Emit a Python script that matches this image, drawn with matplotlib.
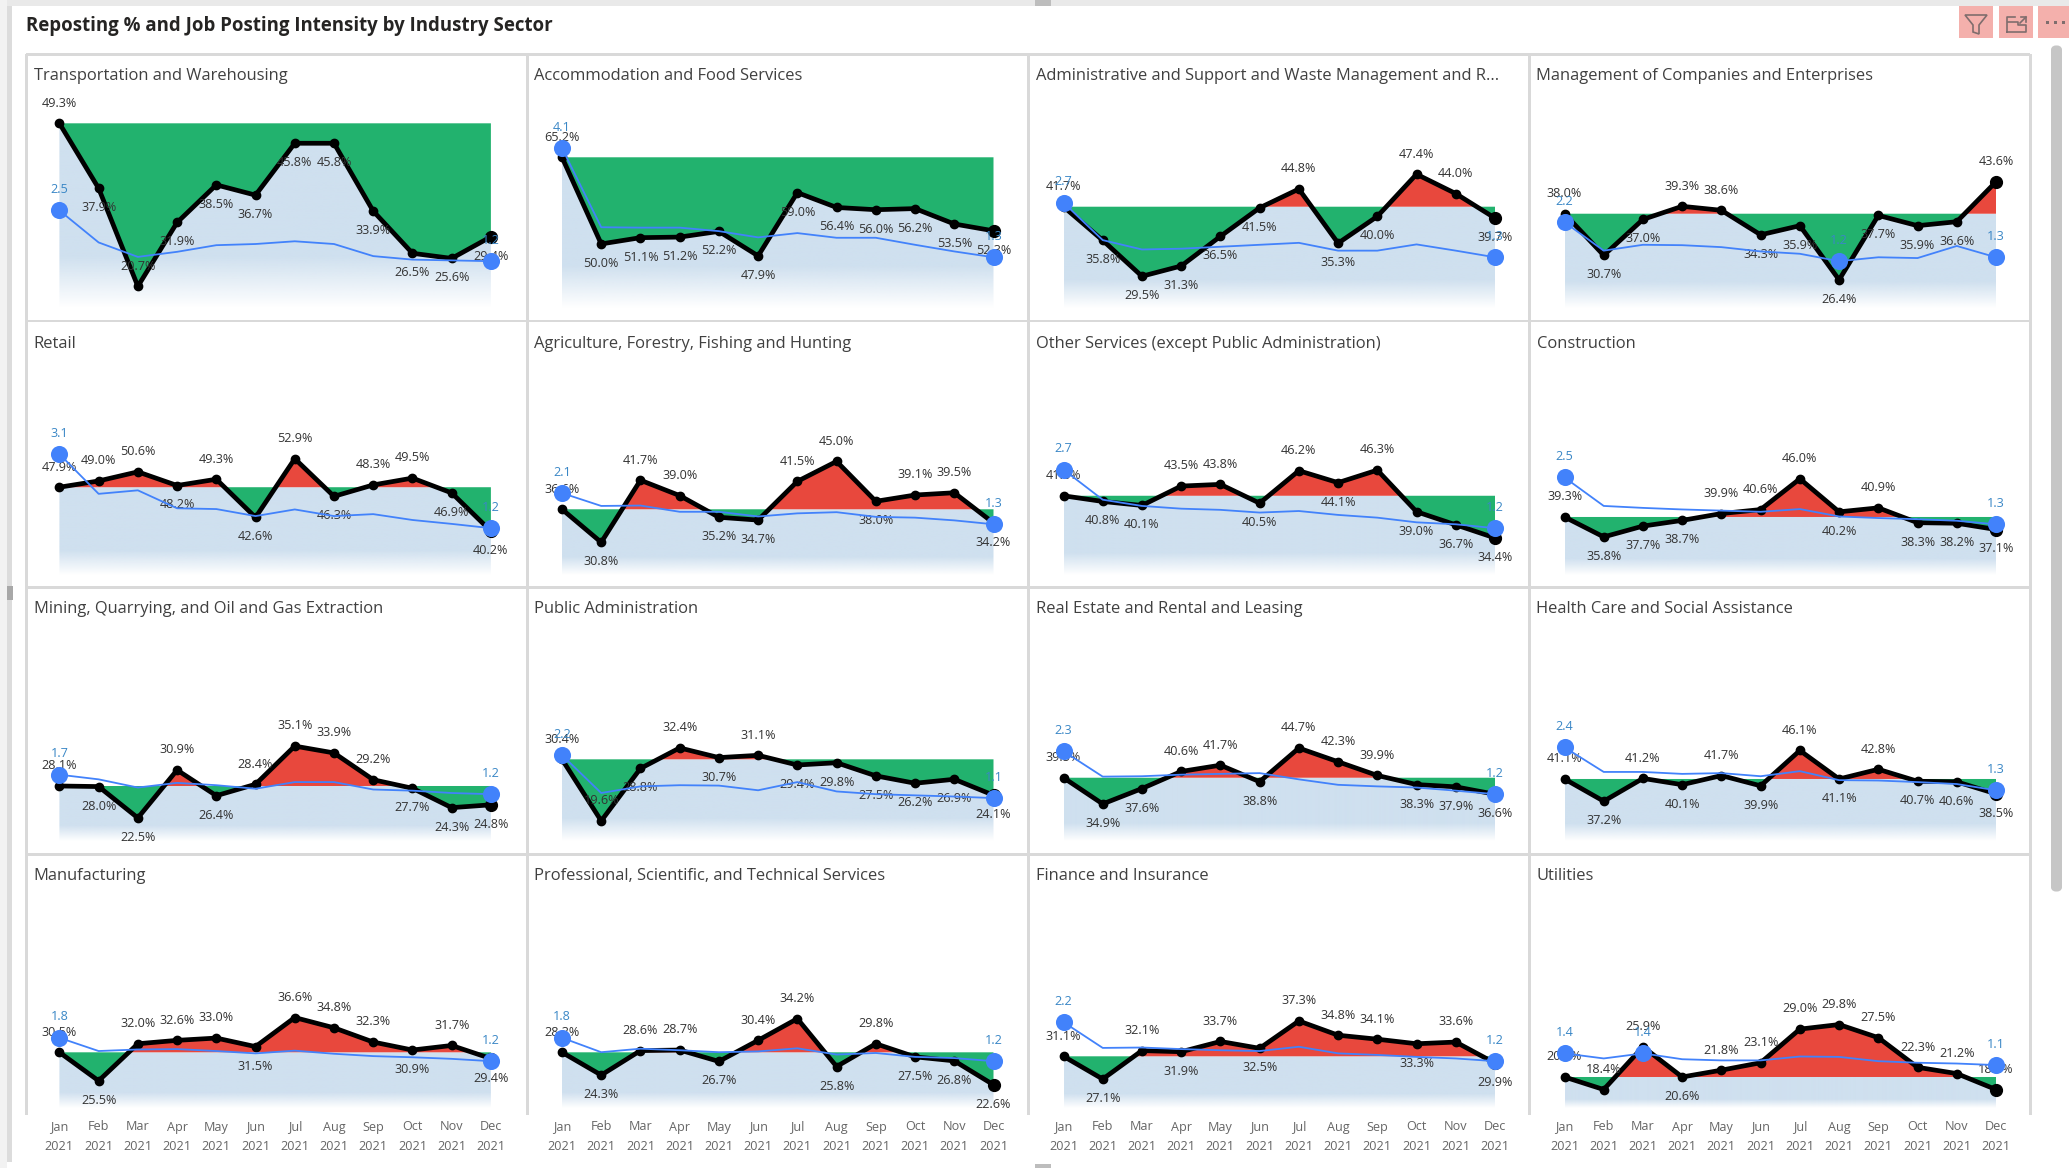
import numpy as np
import matplotlib
matplotlib.use('Agg')
import matplotlib.pyplot as plt
from matplotlib.patches import Rectangle, FancyBboxPatch, Polygon
from matplotlib.lines import Line2D

plt.rcParams['font.family'] = ['Open Sans', 'DejaVu Sans']

###############################################

months = ['Jan', 'Feb', 'Mar', 'Apr', 'May', 'Jun', 'Jul', 'Aug', 'Sep', 'Oct', 'Nov', 'Dec']
tick_labels = [m + '\n2021' for m in months]

sectors = ['Transportation and Warehousing', 'Accommodation and Food Services',
           'Administrative and Support and Waste Management and R...', 'Management of Companies and Enterprises',
           'Retail', 'Agriculture, Forestry, Fishing and Hunting',
           'Other Services (except Public Administration)', 'Construction',
           'Mining, Quarrying, and Oil and Gas Extraction', 'Public Administration',
           'Real Estate and Rental and Leasing', 'Health Care and Social Assistance',
           'Manufacturing', 'Professional, Scientific, and Technical Services',
           'Finance and Insurance', 'Utilities']

repost_transport = [49.3, 37.9, 20.7, 31.9, 38.5, 36.7, 45.8, 45.8, 33.9, 26.5, 25.6, 29.4]
repost_accom = [65.2, 50.0, 51.1, 51.2, 52.2, 47.9, 59.0, 56.4, 56.0, 56.2, 53.5, 52.3]
repost_admin = [41.7, 35.8, 29.5, 31.3, 36.5, 41.5, 44.8, 35.3, 40.0, 47.4, 44.0, 39.7]
repost_mgmt = [38.0, 30.7, 37.0, 39.3, 38.6, 34.3, 35.9, 26.4, 37.7, 35.9, 36.6, 43.6]
repost_retail = [47.9, 49.0, 50.6, 48.2, 49.3, 42.6, 52.9, 46.3, 48.3, 49.5, 46.9, 40.2]
repost_agri = [36.6, 30.8, 41.7, 39.0, 35.2, 34.7, 41.5, 45.0, 38.0, 39.1, 39.5, 34.2]
repost_other = [41.8, 40.8, 40.1, 43.5, 43.8, 40.5, 46.2, 44.1, 46.3, 39.0, 36.7, 34.4]
repost_constr = [39.3, 35.8, 37.7, 38.7, 39.9, 40.6, 46.0, 40.2, 40.9, 38.3, 38.2, 37.1]
repost_mining = [28.1, 28.0, 22.5, 30.9, 26.4, 28.4, 35.1, 33.9, 29.2, 27.7, 24.3, 24.8]
repost_public = [30.4, 19.6, 28.8, 32.4, 30.7, 31.1, 29.4, 29.8, 27.5, 26.2, 26.9, 24.1]
repost_estate = [39.5, 34.9, 37.6, 40.6, 41.7, 38.8, 44.7, 42.3, 39.9, 38.3, 37.9, 36.6]
repost_health = [41.1, 37.2, 41.2, 40.1, 41.7, 39.9, 46.1, 41.1, 42.8, 40.7, 40.6, 38.5]
repost_manuf = [30.5, 25.5, 32.0, 32.6, 33.0, 31.5, 36.6, 34.8, 32.3, 30.9, 31.7, 29.4]
repost_prof = [28.3, 24.3, 28.6, 28.7, 26.7, 30.4, 34.2, 25.8, 29.8, 27.5, 26.8, 22.6]
repost_fin = [31.1, 27.1, 32.1, 31.9, 33.7, 32.5, 37.3, 34.8, 34.1, 33.3, 33.6, 29.9]
repost_util = [20.6, 18.4, 25.9, 20.6, 21.8, 23.1, 29.0, 29.8, 27.5, 22.3, 21.2, 18.4]

intens_transport = [2.5, 1.68, 1.31, 1.44, 1.61, 1.64, 1.71, 1.64, 1.33, 1.24, 1.22, 1.2]
intens_accom = [4.1, 2.07, 2.06, 2.06, 1.97, 1.81, 1.92, 1.8, 1.8, 1.62, 1.45, 1.3]
intens_admin = [2.7, 1.74, 1.5, 1.52, 1.57, 1.62, 1.67, 1.47, 1.47, 1.63, 1.47, 1.3]
intens_mgmt = [2.2, 1.47, 1.62, 1.61, 1.56, 1.45, 1.39, 1.2, 1.3, 1.28, 1.59, 1.3]
intens_retail = [3.1, 2.08, 2.17, 1.71, 1.69, 1.51, 1.68, 1.51, 1.56, 1.41, 1.31, 1.2]
intens_agri = [2.1, 1.77, 1.78, 1.62, 1.62, 1.5, 1.58, 1.61, 1.49, 1.47, 1.4, 1.3]
intens_other = [2.7, 1.93, 1.77, 1.7, 1.67, 1.6, 1.64, 1.54, 1.47, 1.35, 1.3, 1.2]
intens_constr = [2.5, 1.77, 1.72, 1.68, 1.65, 1.62, 1.69, 1.5, 1.46, 1.43, 1.39, 1.3]
intens_mining = [1.7, 1.58, 1.37, 1.49, 1.43, 1.34, 1.51, 1.51, 1.32, 1.29, 1.23, 1.2]
intens_public = [2.2, 1.23, 1.4, 1.43, 1.42, 1.3, 1.51, 1.27, 1.2, 1.17, 1.14, 1.1]
intens_estate = [2.3, 1.65, 1.66, 1.7, 1.72, 1.74, 1.58, 1.44, 1.4, 1.37, 1.29, 1.2]
intens_health = [2.4, 1.77, 1.77, 1.72, 1.74, 1.66, 1.79, 1.56, 1.55, 1.51, 1.46, 1.3]
intens_manuf = [1.8, 1.46, 1.5, 1.51, 1.46, 1.4, 1.47, 1.39, 1.33, 1.3, 1.26, 1.2]
intens_prof = [1.8, 1.43, 1.52, 1.48, 1.43, 1.45, 1.53, 1.37, 1.41, 1.31, 1.28, 1.2]
intens_fin = [2.2, 1.54, 1.55, 1.51, 1.48, 1.46, 1.57, 1.4, 1.36, 1.31, 1.27, 1.2]
intens_util = [1.4, 1.27, 1.4, 1.25, 1.22, 1.22, 1.32, 1.31, 1.2, 1.16, 1.14, 1.1]

reposts = [repost_transport, repost_accom, repost_admin, repost_mgmt,
           repost_retail, repost_agri, repost_other, repost_constr,
           repost_mining, repost_public, repost_estate, repost_health,
           repost_manuf, repost_prof, repost_fin, repost_util]
intens = [intens_transport, intens_accom, intens_admin, intens_mgmt,
          intens_retail, intens_agri, intens_other, intens_constr,
          intens_mining, intens_public, intens_estate, intens_health,
          intens_manuf, intens_prof, intens_fin, intens_util]

# bottom of the left axis of each panel, they all span the same range
y_bottom = [16.9, 38.76, 23.93, 21.46, 32.5, 25.07, 27.9, 29.12,
            18.45, 16.07, 28.4, 30.22, 20.73, 18.53, 22.03, 15.16]

# a = label above the point, b = below
label_side = ['ababbbbbbbbb', 'abbbbbbbbbbb', 'abbbbbabbaab', 'abbaabbbbbba',
              'aaabababaabb', 'abaabbaabaab', 'abbaabababbb', 'abbbaaababbb',
              'abbabaaaabbb', 'aababab' + 'bbbbb', 'abbaabaaabbb', 'abababababbb',
              'abaaabaaabab', 'abaabaababbb', 'abababaaabab', 'aaabaaaaaaaa']

# months where the blue line has a dot and a label
blue_dots = [[0, 11]] * 3 + [[0, 7, 11]] + [[0, 11]] * 11 + [[0, 2, 11]]

###############################################

W = 2069
H = 1168
col_x = [26, 527, 1028, 1529, 2030]
row_y = [54, 321, 587, 854]
ax_left = [59.4, 562, 1063.5, 1564.5]
ax_w = 431.5
axis_h = 254
y_span = 44.56
y2_top = 6.51

GREEN = '#22b26e'
RED = '#e8483d'
AREA = '#cfe0ef'
BLUE = '#4282fb'
BLUE_TXT = '#3a87c6'
GRID = '#d9d9d9'
TXT = '#333333'
ICON = '#7f6d6d'

x = np.arange(12)
x_dense = np.linspace(0, 11, 1101)

fig = plt.figure(figsize=(W/100, H/100), dpi=100, facecolor='white')


def px_rect(x0, y0, w, h, color, **kw):
    fig.add_artist(Rectangle((x0/W, 1-(y0+h)/H), w/W, h/H, transform=fig.transFigure,
                             facecolor=color, edgecolor='none', **kw))


def px_line(xs, ys, color, lw):
    fig.add_artist(Line2D([a/W for a in xs], [1-b/H for b in ys], transform=fig.transFigure,
                          color=color, lw=lw))


# outer frame of the visual
px_rect(0, 0, W, 6, '#e9e9e9')
px_rect(7, 6, 5, H-12, '#dcdcdc')
px_rect(0, 0, 7, H, '#f2f2f2')
px_rect(1035, 0, 16, 6, '#bdbdbd')
px_rect(7, 586, 6, 14, '#a8a8a8')
px_rect(1035, 1164, 16, 4, '#bdbdbd')

# panel grid
for r in row_y:
    px_rect(col_x[0], r-1, col_x[-1]-col_x[0], 2.5, GRID)
for c in col_x:
    px_rect(c-1, row_y[0], 2.5, 1115-row_y[0], GRID)

# scroll bar
fig.add_artist(FancyBboxPatch((2051/W, 1-892/H), 11/W, 847/H, boxstyle='round,pad=0,rounding_size=0.004',
                              transform=fig.transFigure, facecolor='#c6c6c6', edgecolor='none'))

# header icons
for ix, iw in [(1959, 34), (1998.5, 34), (2038.4, 30.6)]:
    px_rect(ix, 6, iw, 32, '#f4b0ac')
fig.add_artist(Polygon([((1965+dx)/W, 1-(15+dy)/H) for dx, dy in
                        [(0, 0), (22, 0), (14, 10), (14, 19), (8, 17), (8, 10)]],
                       closed=True, fill=False, edgecolor=ICON, lw=1.2, transform=fig.transFigure))
px_line([2007, 2026, 2026, 2018, 2018, 2007, 2007], [32, 32, 25, 25, 22, 22, 32], ICON, 1.2)
px_line([2007, 2007, 2015], [21, 17, 17], ICON, 1.2)
px_line([2020, 2026], [23, 17], ICON, 1.2)
px_line([2021, 2026, 2026], [17, 17, 22], ICON, 1.2)
for dx in [2046, 2054, 2062]:
    px_rect(dx, 21, 3, 3, ICON)

fig.text(25.8/W, 1-31/H, 'Reposting % and Job Posting Intensity by Industry Sector',
         fontsize=13.45, fontweight='bold', color='#252423', va='baseline', ha='left')

###############################################

for i in range(16):
    row = i // 4
    col = i % 4
    left = col_x[col]
    top = row_y[row]
    y = np.array(reposts[i])
    z = np.array(intens[i])
    jan = y[0]
    ymin = y_bottom[i]
    ymax = ymin + y_span

    ax = fig.add_axes([ax_left[col]/W, 1-(top+axis_h)/H, ax_w/W, axis_h/H])
    ax.patch.set_alpha(0)
    for s in ax.spines.values():
        s.set_visible(False)

    y_dense = np.interp(x_dense, x, y)
    low = np.minimum(y_dense, jan)

    # light blue area, solid first then fading out to the bottom of the panel
    area = ax.fill_between(x_dense, low, ymin, facecolor='none', edgecolor='none')
    fade = np.ones((256, 1, 4))
    fade[:, :, :3] = matplotlib.colors.to_rgb(AREA)
    fade[:, 0, 3] = np.clip((1-np.linspace(0, 1, 256))/0.28, 0, 1)
    img = ax.imshow(fade, extent=(0, 11, ymin, jan), origin='upper', aspect='auto', zorder=1)
    img.set_clip_path(area.get_paths()[0], transform=ax.transData)

    ax.fill_between(x_dense, y_dense, jan, where=y_dense < jan, facecolor=GREEN, edgecolor='none', zorder=2)
    ax.fill_between(x_dense, y_dense, jan, where=y_dense > jan, facecolor=RED, edgecolor='none', zorder=2)

    ax.plot(x, y, color='black', lw=3.4, solid_joinstyle='round', solid_capstyle='round', zorder=3, clip_on=False)
    ax.plot(x[:-1], y[:-1], 'o', color='black', ms=6, zorder=3, clip_on=False)
    ax.plot(x[-1], y[-1], 'o', color='black', ms=8.5, zorder=3, clip_on=False)

    for j in range(12):
        dy = 14.5 if label_side[i][j] == 'a' else -14
        ax.annotate('%.1f%%' % y[j], (x[j], y[j]), xytext=(0, dy), textcoords='offset points',
                    ha='center', va='center', fontsize=9.1, color=TXT, zorder=4, annotation_clip=False)

    ax.set_xlim(0, 11)
    ax.set_ylim(ymin, ymax)
    ax.set_yticks([])
    if row == 3:
        ax.set_xticks(x)
        ax.set_xticklabels(tick_labels, fontsize=9.1, color='#666666', linespacing=1.6)
        ax.tick_params(axis='x', length=0, pad=9)
    else:
        ax.set_xticks([])

    # job posting intensity on its own axis
    ax2 = ax.twinx()
    ax2.patch.set_alpha(0)
    for s in ax2.spines.values():
        s.set_visible(False)
    ax2.plot(x, z, color=BLUE, lw=1.3, clip_on=False, zorder=5)
    for j in blue_dots[i]:
        ax2.plot(x[j], z[j], 'o', color=BLUE, ms=12.3, mew=0, clip_on=False, zorder=6)
        ax2.annotate('%.1f' % z[j], (x[j], z[j]), xytext=(0, 15), textcoords='offset points',
                     ha='center', va='center', fontsize=9.1, color=BLUE_TXT, zorder=7, annotation_clip=False)
    ax2.set_ylim(0, y2_top)
    ax2.set_yticks([])

    fig.text((left+7.5)/W, 1-(top+26.5)/H, sectors[i], fontsize=11.9, color='#404040', va='baseline', ha='left')

fig.savefig('out.png', dpi=100)
